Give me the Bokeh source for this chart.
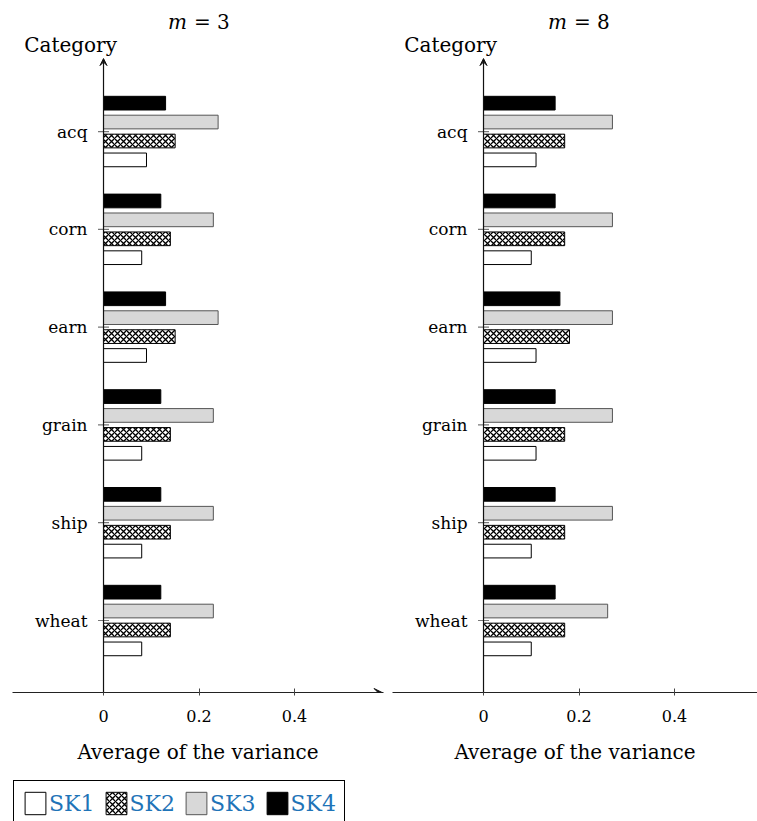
from bokeh.plotting import figure
from bokeh.models import (Range1d, FixedTicker, Arrow, VeeHead, Label, Legend,
                          LegendItem, ColumnDataSource)
from bokeh.layouts import row, column
from bokeh.embed import file_html
from bokeh.resources import INLINE
from bokeh.core.properties import value

# ---------------- data ----------------
categories = ["acq", "corn", "earn", "grain", "ship", "wheat"]
series = ["SK1", "SK2", "SK3", "SK4"]

m3_sk1 = [0.09, 0.08, 0.09, 0.08, 0.08, 0.08]
m3_sk2 = [0.15, 0.14, 0.15, 0.14, 0.14, 0.14]
m3_sk3 = [0.24, 0.23, 0.24, 0.23, 0.23, 0.23]
m3_sk4 = [0.13, 0.12, 0.13, 0.12, 0.12, 0.12]

m8_sk1 = [0.11, 0.10, 0.11, 0.11, 0.10, 0.10]
m8_sk2 = [0.17, 0.17, 0.18, 0.17, 0.17, 0.17]
m8_sk3 = [0.27, 0.27, 0.27, 0.27, 0.27, 0.26]
m8_sk4 = [0.15, 0.15, 0.16, 0.15, 0.15, 0.15]

panel_m = ["3", "8"]
x_ticks = [0, 0.2, 0.4]
x_tick_labels = ["0", "0.2", "0.4"]
x_label = "Average of the variance"
y_label = "Category"

# ---------------- styles ----------------
FONT = "DejaVu Serif"
styles = {
    "SK1": dict(fill_color="white", line_color="black"),
    "SK2": dict(fill_color="white", line_color="black", hatch_pattern="diagonal_cross",
                hatch_color="black", hatch_scale=6, hatch_weight=1.3),
    "SK3": dict(fill_color="#d8d8d8", line_color="#555555"),
    "SK4": dict(fill_color="black", line_color="black"),
}
offsets = {"SK1": -0.29, "SK2": -0.097, "SK3": 0.097, "SK4": 0.29}
BAR_H = 0.14
PX_PER_X = 477.5
X0, Y0, Y1 = -0.1906, -0.736, 6.258
Y_ARROW = 5.746

ncat = len(categories)
pos = [ncat - 1 - i for i in range(ncat)]


def make_panel(vals, m, width, mbl, mbr, x_arrow):
    frame_w = width - mbl - mbr
    x_end = X0 + frame_w / PX_PER_X
    p = figure(width=width, height=772,
               x_range=Range1d(X0, x_end), y_range=Range1d(Y0, Y1),
               y_axis_location=None, output_backend="svg", toolbar_location=None,
               min_border_left=mbl, min_border_right=mbr, min_border_top=8,
               min_border_bottom=80)
    p.grid.visible = False
    p.outline_line_color = None
    p.background_fill_color = "white"

    ax = p.xaxis[0]
    ax.ticker = FixedTicker(ticks=x_ticks)
    ax.major_label_overrides = {t: l for t, l in zip(x_ticks, x_tick_labels)}
    ax.major_label_text_font = FONT
    ax.major_label_text_font_size = "16px"
    ax.major_label_text_color = "black"
    ax.major_label_standoff = 14
    ax.major_tick_in = 4
    ax.major_tick_out = 3
    ax.major_tick_line_color = "#444444"
    ax.minor_tick_line_color = None
    ax.axis_line_color = "#222222"
    ax.axis_line_width = 1.2
    ax.axis_label = x_label
    ax.axis_label_text_font = FONT
    ax.axis_label_text_font_size = "20px"
    ax.axis_label_text_font_style = "normal"
    ax.axis_label_text_color = "black"
    ax.axis_label_standoff = 15

    sources = {}
    for s in series:
        src = ColumnDataSource(dict(y=[q + offsets[s] for q in pos], right=vals[s]))
        sources[s] = src
        p.hbar(y="y", left=0, right="right", height=BAR_H, source=src,
               line_width=1, **styles[s])

    # y axis line with arrow
    p.add_layout(Arrow(end=VeeHead(size=7, line_color="#111111", fill_color="#111111",
                                   line_width=1),
                       x_start=0, y_start=Y0, x_end=0, y_end=Y_ARROW,
                       line_color="#111111", line_width=1.2))
    if x_arrow:
        p.add_layout(Arrow(end=VeeHead(size=8, line_color="#111111", fill_color="#111111",
                                       line_width=1),
                           x_start=x_end - 0.05, y_start=Y0, x_end=x_end - 0.003, y_end=Y0,
                           line_color="#222222", line_width=1.2))
    # category ticks
    p.scatter(x=[0] * ncat, y=pos, marker="dash", size=11, line_color="#777777",
              line_width=1.2)
    # category labels
    p.text(x=[0] * ncat, y=pos, text=categories, x_offset=-16, text_align="right",
           text_baseline="middle", text_font=value(FONT), text_font_size="17px",
           text_color="black")

    p.add_layout(Label(x=-0.069, y=5.88, text=y_label, text_align="center",
                       text_baseline="middle", text_font=FONT, text_font_size="20px",
                       text_color="black"))
    p.add_layout(Label(x=0.1748, y=6.115, text="m", text_align="right",
                       text_baseline="middle", text_font=FONT, text_font_size="20px",
                       text_font_style="italic", text_color="black"))
    p.add_layout(Label(x=0.1748, y=6.115, x_offset=7, text="= " + m, text_align="left",
                       text_baseline="middle", text_font=FONT, text_font_size="20px",
                       text_color="black"))
    return p, sources


vals3 = {"SK1": m3_sk1, "SK2": m3_sk2, "SK3": m3_sk3, "SK4": m3_sk4}
vals8 = {"SK1": m8_sk1, "SK2": m8_sk2, "SK3": m8_sk3, "SK4": m8_sk4}

p1, src1 = make_panel(vals3, panel_m[0], 388, 12, 5, True)
p2, _ = make_panel(vals8, panel_m[1], 369, 4, 0, False)

# legend strip (renderers share the m = 3 data, kept outside the visible range)
pl = figure(width=388, height=49, x_range=Range1d(10, 11), y_range=Range1d(10, 11),
            x_axis_location=None, y_axis_location=None, output_backend="svg",
            toolbar_location=None, min_border_left=5, min_border_right=0,
            min_border_top=0, min_border_bottom=0)
pl.grid.visible = False
pl.outline_line_color = None
items = []
for s in series:
    r = pl.hbar(y="y", left=0, right="right", height=BAR_H, source=src1[s],
                line_width=1, **styles[s])
    items.append(LegendItem(label=s, renderers=[r]))
legend = Legend(items=items, orientation="horizontal", location="top_left",
                label_text_font=FONT, label_text_font_size="22px",
                label_text_color="#1f74b8", border_line_color="black",
                border_line_width=1, border_line_alpha=1,
                glyph_width=26, glyph_height=28, spacing=8, padding=8,
                margin=8, label_standoff=1, background_fill_alpha=1)
pl.add_layout(legend)

layout = column(row(p1, p2), pl)
open("out.html", "w").write(file_html(layout, INLINE, title="Average of the variance"))
